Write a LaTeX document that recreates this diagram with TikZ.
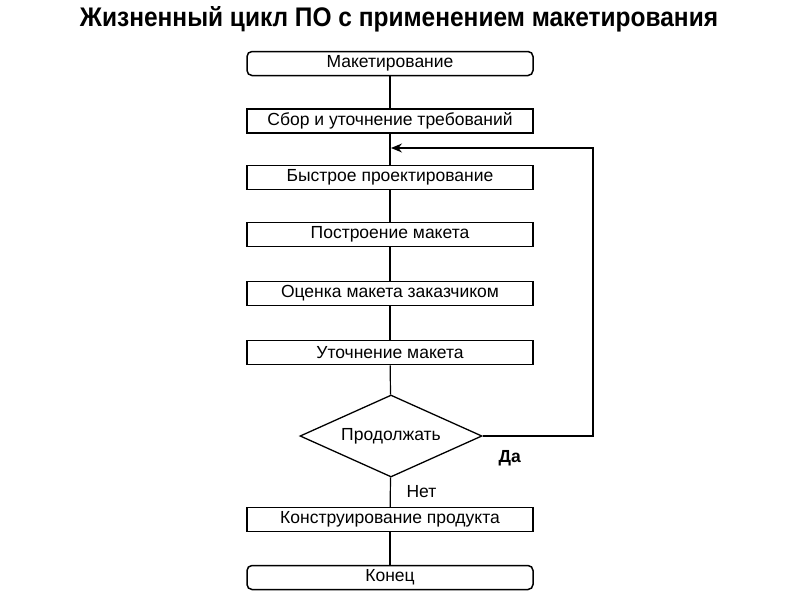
\documentclass[tikz,border=0pt]{standalone}
\usepackage{fontspec}
\setmainfont{Liberation Sans}
\usetikzlibrary{shapes.geometric,arrows.meta}
\begin{document}
\begin{tikzpicture}[x=1pt,y=-1pt,
  every node/.style={font=\fontsize{17.5}{20}\selectfont},
  stepbox/.style={draw,line width=1.5pt,minimum width=286pt,minimum height=24pt,inner sep=0pt},
  termbox/.style={stepbox,rounded corners=5pt},
  decbox/.style={draw,line width=1.3pt,diamond,aspect=2.22,minimum width=182pt,minimum height=82pt,inner sep=0pt},
  link/.style={line width=1.2pt}]
\useasboundingbox (0,0) rectangle (800,600);
\node[anchor=base] (title) at (399,26) {\resizebox{638pt}{20pt}{\bfseries Жизненный цикл ПО с применением макетирования}};
\node[termbox] (b1) at (390,63.5) {Макетирование};
\node[stepbox] (b2) at (390,121) {Сбор и уточнение требований};
\node[stepbox] (b3) at (390,177.5) {Быстрое проектирование};
\node[stepbox] (b4) at (390,234.5) {Построение макета};
\node[stepbox] (b5) at (390,293.5) {Оценка макета заказчиком};
\node[stepbox] (b6) at (390,352.5) {Уточнение макета};
\node[decbox] (d) at (391,436) {Продолжать};
\node[stepbox] (b7) at (390,519.5) {Конструирование продукта};
\node[termbox] (b8) at (390,577.5) {Конец};
\coordinate (c1) at (593,436);
\coordinate (c2) at (593,148);
\coordinate (c3) at (391,148);
\foreach \a/\b in {b1/b2,b2/b3,b3/b4,b4/b5,b5/b6,b6/d,d/b7,b7/b8}
  \draw[link] (\a) -- (\b);
\draw[link,-{Stealth[length=11pt,width=9pt]}] (d.east) -- (c1) -- (c2) -- (c3);
\node[anchor=base west] (yes) at (495,462) {\bfseries Да};
\node[anchor=base west] (no) at (403,497) {Нет};
\end{tikzpicture}
\end{document}
